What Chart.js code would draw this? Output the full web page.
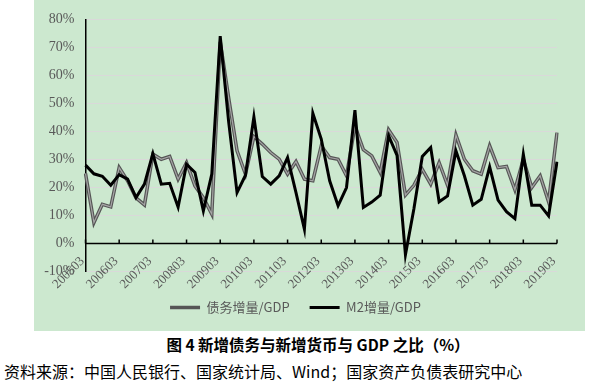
<!DOCTYPE html>
<html>
<head>
<meta charset="utf-8">
<script src="https://cdn.jsdelivr.net/npm/chart.js@4.4.0/dist/chart.umd.min.js"></script>
<style>
  html, body { margin: 0; padding: 0; background: #fff; }
  body { width: 616px; height: 388px; position: relative; overflow: hidden; }
  #bg { position: absolute; left: 34px; top: 0; width: 551px; height: 331px; background: #cce8cf; }
  #wrap { position: absolute; left: 34px; top: 0; width: 551px; height: 324px; }
  #title { position: absolute; left: 0; width: 636px; top: 333px; line-height: 20px; text-align: center;
           font: bold 15.5px "Noto Sans CJK SC"; color: #000; }
  #source { position: absolute; left: 4px; top: 359px; line-height: 20px; font: 16px "Noto Sans CJK SC"; color: #000; white-space: nowrap; }
</style>
</head>
<body>
<div id="bg"></div>
<div id="wrap"><canvas id="ratioChart"></canvas></div>
<div id="title">图 4 新增债务与新增货币与 GDP 之比（%）</div>
<div id="source">资料来源：中国人民银行、国家统计局、Wind；国家资产负债表研究中心</div>
<script>
// quarterly categories, 2005Q1 .. 2019Q1
const quarters = [
  '200503','200506','200509','200512',
  '200603','200606','200609','200612',
  '200703','200706','200709','200712',
  '200803','200806','200809','200812',
  '200903','200906','200909','200912',
  '201003','201006','201009','201012',
  '201103','201106','201109','201112',
  '201203','201206','201209','201212',
  '201303','201306','201309','201312',
  '201403','201406','201409','201412',
  '201503','201506','201509','201512',
  '201603','201606','201609','201612',
  '201703','201706','201709','201712',
  '201803','201806','201809','201812',
  '201903'
];

// 债务增量/GDP (%)
const debtRatio = [
  25.0, 7.5, 14.0, 13.1,
  27.1, 22.4, 16.3, 13.8,
  31.9, 30.1, 31.1, 23.0,
  28.9, 20.6, 16.4, 10.5,
  72.0, 52.0, 33.1, 24.8,
  38.2, 35.5, 32.5, 30.1,
  24.8, 29.3, 23.0, 22.4,
  34.9, 30.7, 30.1, 24.2,
  42.0, 33.5, 31.3, 25.4,
  40.6, 36.1, 17.3, 20.8,
  26.5, 21.2, 28.9, 20.8,
  38.7, 30.1, 26.0, 24.8,
  34.9, 27.1, 27.5, 19.2,
  30.1, 20.0, 24.2, 14.9,
  39.6
];

// M2增量/GDP (%)
const m2Ratio = [
  28.0, 24.9, 24.0, 20.8,
  24.6, 23.0, 16.4, 21.2,
  32.1, 21.2, 21.5, 13.0,
  28.3, 25.4, 11.7, 24.8,
  74.0, 43.5, 18.2, 24.4,
  45.2, 23.9, 21.2, 24.2,
  30.7, 18.2, 5.1, 46.5,
  37.3, 22.4, 13.5, 20.0,
  47.6, 12.9, 14.8, 17.3,
  38.5, 31.5, -4.0, 12.3,
  31.1, 34.3, 14.9, 17.0,
  33.1, 24.2, 13.7, 15.8,
  27.4, 15.5, 11.4, 8.9,
  31.9, 13.7, 13.7, 9.9,
  29.2
];

const yMin = -10;
const yMax = 80;
const yStep = 10;

// black zero line with small tick marks every 4 quarters
const zeroAxis = {
  id: 'zeroAxis',
  beforeDatasetsDraw(chart) {
    const { ctx, chartArea, scales } = chart;
    const y0 = scales.y.getPixelForValue(0);
    ctx.save();
    ctx.strokeStyle = '#000';
    ctx.lineWidth = 1.5;
    ctx.beginPath();
    ctx.moveTo(chartArea.left, y0);
    ctx.lineTo(chartArea.right, y0);
    quarters.forEach((q, i) => {
      if (i % 4 !== 0) return;
      const px = scales.x.getPixelForValue(i);
      ctx.moveTo(px, y0);
      ctx.lineTo(px, y0 - 4);
    });
    ctx.stroke();
    ctx.restore();
  }
};

const ctx = document.getElementById('ratioChart').getContext('2d');
new Chart(ctx, {
  type: 'line',
  data: {
    labels: quarters,
    datasets: [
      {
        label: '债务增量/GDP',
        data: debtRatio,
        borderColor: '#555555',
        backgroundColor: '#555555',
        borderWidth: 3.5,
        pointRadius: 0,
        tension: 0,
        order: 3
      },
      {
        label: 'debt-core',
        data: debtRatio,
        borderColor: '#a6a6a6',
        borderWidth: 1.2,
        pointRadius: 0,
        tension: 0,
        order: 2
      },
      {
        label: 'M2增量/GDP',
        data: m2Ratio,
        borderColor: '#000',
        backgroundColor: '#000',
        borderWidth: 3,
        pointRadius: 0,
        tension: 0,
        order: 1
      }
    ]
  },
  options: {
    responsive: true,
    maintainAspectRatio: false,
    animation: false,
    layout: { padding: { left: 0, right: 28, top: 17, bottom: 0 } },
    plugins: {
      title: { display: false },
      tooltip: { enabled: false },
      legend: {
        position: 'bottom',
        labels: {
          usePointStyle: true,
          pointStyle: 'line',
          pointStyleWidth: 30,
          padding: 20,
          color: '#595959',
          font: { family: 'Noto Sans CJK SC', size: 13 },
          filter: item => item.datasetIndex !== 1,
          sort: (a, b) => a.datasetIndex - b.datasetIndex
        }
      }
    },
    scales: {
      x: {
        position: { y: yMin },
        grid: { display: false, drawTicks: false },
        border: { display: false },
        ticks: {
          autoSkip: false,
          minRotation: 45,
          maxRotation: 45,
          padding: -18,
          labelOffset: -3,
          color: '#595959',
          font: { family: 'Liberation Serif', size: 13 },
          callback: (v, i) => (i % 4 === 0 ? quarters[i] : '')
        }
      },
      // empty bottom band that keeps room for the rotated labels above the legend
      xGap: {
        type: 'category',
        position: 'bottom',
        grid: { display: false, drawTicks: false },
        border: { display: false },
        ticks: { display: false },
        afterFit: s => { s.height = 9.4; }
      },
      y: {
        min: yMin,
        max: yMax,
        ticks: {
          stepSize: yStep,
          padding: 11,
          color: '#595959',
          font: { family: 'Liberation Serif', size: 14 },
          callback: v => v + '%'
        },
        grid: {
          drawTicks: false,
          lineWidth: 1,
          color: c => (c.tick && c.tick.value === 0 ? 'rgba(0,0,0,0)' : '#d9d9d9')
        },
        border: { display: true, color: '#000', width: 1.5 },
        afterFit: s => { s.width = 51.5; }
      }
    }
  },
  plugins: [zeroAxis]
});
</script>
</body>
</html>
